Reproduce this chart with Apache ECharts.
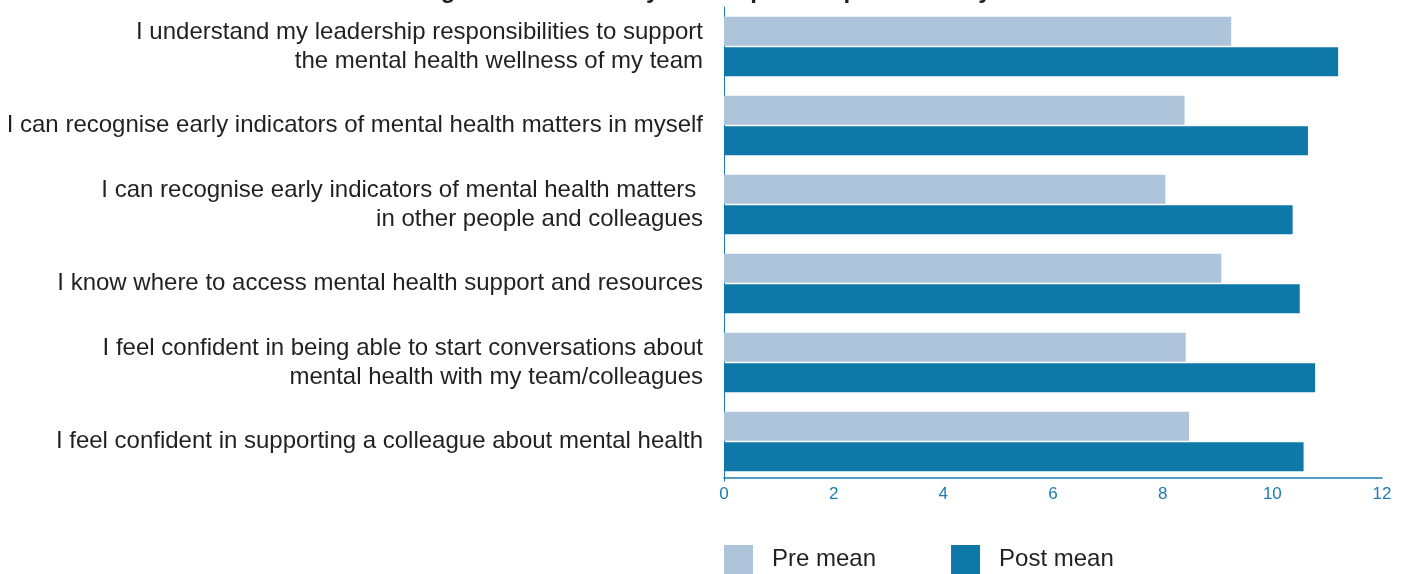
<!DOCTYPE html>
<html>
<head>
<meta charset="utf-8">
<script src="https://cdn.jsdelivr.net/npm/echarts@6/dist/echarts.min.js"></script>
<style>
html,body{margin:0;padding:0;background:#fff;}
#chart{width:1411px;height:574px;}
</style>
</head>
<body>
<div id="chart"></div>
<script>
const titleText = 'Figure 3: Mean ready scores pre and post delivery';
const categories = [
  'I understand my leadership responsibilities to support\nthe mental health wellness of my team',
  'I can recognise early indicators of mental health matters in myself',
  'I can recognise early indicators of mental health matters \nin other people and colleagues',
  'I know where to access mental health support and resources',
  'I feel confident in being able to start conversations about\nmental health with my team/colleagues',
  'I feel confident in supporting a colleague about mental health'
];
const seriesNames = ['Pre mean', 'Post mean'];
const preMean = [9.25, 8.4, 8.05, 9.07, 8.42, 8.48];
const postMean = [11.2, 10.65, 10.37, 10.5, 10.78, 10.57];
const xTicks = [0, 2, 4, 6, 8, 10, 12];

const font = '"Liberation Sans", Arial, sans-serif';
const axisBlue = '#1b7db0';
const chart = echarts.init(document.getElementById('chart'));
chart.setOption({
  animation: false,
  title: {
    text: titleText,
    left: 'center',
    top: -26,
    textStyle: {fontFamily: font, fontSize: 24, fontWeight: 'bold', color: '#231f20'}
  },
  legend: {
    left: 724,
    top: 545,
    padding: 0,
    itemWidth: 29,
    itemHeight: 29,
    itemGap: 75,
    icon: 'rect',
    data: seriesNames,
    textStyle: {fontFamily: font, fontSize: 24, color: '#231f20', padding: [7, 0, 0, 14]}
  },
  grid: {left: 724, right: 29, top: 7, height: 474, containLabel: false},
  xAxis: {
    type: 'value',
    min: xTicks[0],
    max: xTicks[xTicks.length - 1],
    interval: 2,
    offset: -3,
    axisLine: {show: true, lineStyle: {color: axisBlue, width: 1.5}},
    axisTick: {show: false},
    splitLine: {show: false},
    axisLabel: {fontFamily: font, fontSize: 17, color: axisBlue, margin: 8}
  },
  yAxis: {
    type: 'category',
    inverse: true,
    data: categories,
    axisLine: {show: true, lineStyle: {color: axisBlue, width: 1}},
    axisTick: {show: false},
    axisLabel: {fontFamily: font, fontSize: 24, color: '#231f20', margin: 21, lineHeight: 29, align: 'right', padding: [7, 0, 0, 0]}
  },
  series: [
    {
      name: seriesNames[0], type: 'bar', data: preMean,
      barWidth: 29, barGap: '5%',
      itemStyle: {color: '#aec4da'}
    },
    {
      name: seriesNames[1], type: 'bar', data: postMean,
      barWidth: 29, barGap: '5%',
      itemStyle: {color: '#0e78a8'}
    }
  ]
});
</script>
</body>
</html>
